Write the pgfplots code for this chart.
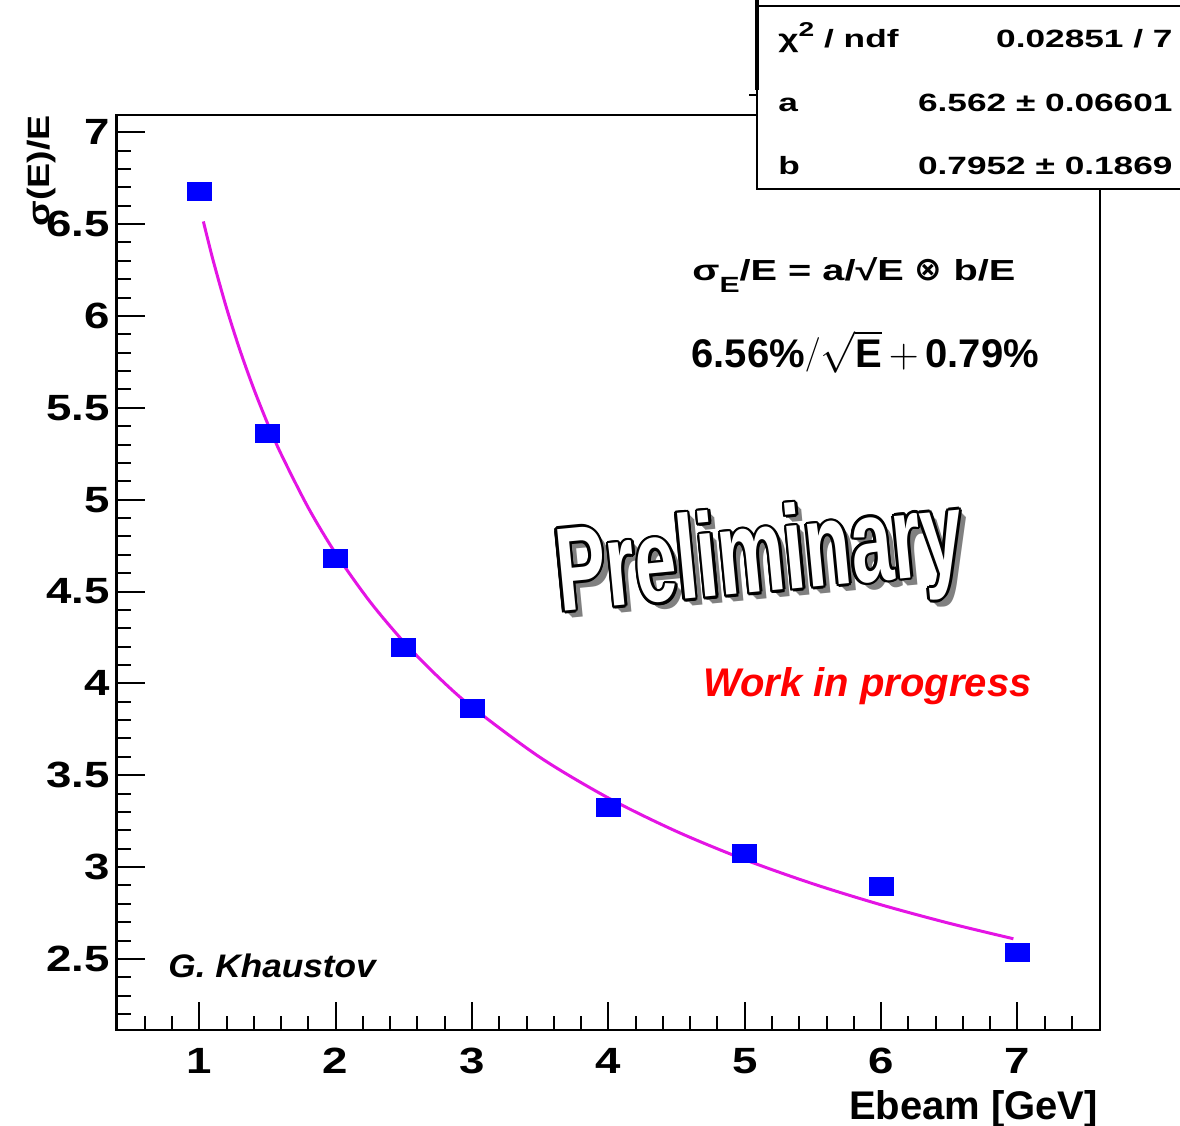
\documentclass[border=0pt]{standalone}
\usepackage{pgfplots}
\pgfplotsset{compat=1.18}
\usepackage{fontspec}
\setmainfont{Liberation Sans}
\newfontfamily\tickfont[FakeStretch=1.25]{Liberation Sans}
\newfontfamily\statfont[FakeStretch=1.41]{Liberation Sans}
\newfontfamily\formfont[FakeStretch=1.37]{Liberation Sans}
\newfontfamily\ylabfont[FakeStretch=1.22]{Liberation Sans}
\newfontfamily\authfont[FakeStretch=1.08]{Liberation Sans}
\newfontfamily\prelimfont[FakeStretch=0.63]{Liberation Sans}
\newfontfamily\symfont{DejaVu Sans}
\definecolor{fitmag}{RGB}{228,20,228}
\newcommand{\prelimtext}{\prelimfont\bfseries\fontsize{59.4}{60}\selectfont Preliminary}

\begin{document}
\begin{tikzpicture}
\path[use as bounding box] (0,0) rectangle (590pt,563pt);
\begin{axis}[
  at={(58.25pt,48pt)}, anchor=south west,
  width=491.95pt, height=457.5pt, scale only axis,
  xmin=0.393, xmax=7.608, ymin=2.113, ymax=7.094,
  axis line style={line width=1.1pt},
  tick align=inside,
  xtick pos=left, ytick pos=left,
  xtick={1,2,3,4,5,6,7},
  ytick={2.5,3,3.5,4,4.5,5,5.5,6,6.5,7},
  minor xtick={0.6,0.8,1.2,1.4,1.6,1.8,2.2,2.4,2.6,2.8,3.2,3.4,3.6,3.8,4.2,4.4,4.6,4.8,5.2,5.4,5.6,5.8,6.2,6.4,6.6,6.8,7.2,7.4},
  minor ytick={2.2,2.3,2.4,2.6,2.7,2.8,2.9,3.1,3.2,3.3,3.4,3.6,3.7,3.8,3.9,4.1,4.2,4.3,4.4,4.6,4.7,4.8,4.9,5.1,5.2,5.3,5.4,5.6,5.7,5.8,5.9,6.1,6.2,6.3,6.4,6.6,6.7,6.8,6.9,7.0},
  major tick length=14pt, minor tick length=7pt,
  every tick/.style={line width=1pt, black},
  /pgf/number format/assume math mode=true,
  tick label style={font=\tickfont\bfseries\fontsize{18.25}{20}\selectfont, inner sep=0pt},
  yticklabel style={anchor=east, xshift=-3.25pt},
  xticklabel style={anchor=north, yshift=-9pt},
  xlabel={Ebeam [GeV]},
  xlabel style={at={(axis description cs:0.998,-0.0978)}, anchor=base east, inner sep=0pt,
    font=\bfseries\fontsize{20}{24}\selectfont},
  ylabel={σ(E)/E},
  ylabel style={at={(axis description cs:-0.0676,1)}, anchor=base east, inner sep=0pt,
    font=\ylabfont\bfseries\fontsize{15.4}{18}\selectfont},
]
% measured resolution points
\addplot[only marks, mark=square*, mark size=4.5pt,
  mark options={fill=blue, draw=blue, xscale=1.33}] coordinates {
  (1,6.680) (1.5,5.361) (2,4.680) (2.5,4.195) (3,3.865)
  (4,3.324) (5,3.074) (6,2.893) (7,2.534)
};
% fitted resolution curve, sqrt(a^2/E + b^2) with a = 6.562, b = 0.7952
\addplot[fitmag, line width=1.5pt, smooth] coordinates {
  (1.03,6.5145) (1.1,6.3070) (1.2,6.0428) (1.3,5.8099) (1.4,5.6027)
  (1.5,5.4165) (1.6,5.2483) (1.8,4.9552) (2.0,4.7077) (2.25,4.4464)
  (2.5,4.2256) (2.75,4.0361) (3.0,3.8712) (3.5,3.5965) (4.0,3.3760)
  (4.5,3.1939) (5.0,3.0404) (5.5,2.9088) (6.0,2.7945) (6.5,2.6939)
  (6.97,2.6097)
};
\end{axis}

\begin{scope}[x=0.5pt, y=-0.5pt, shift={(0pt,563pt)}]
  % fit statistics box
  \draw[line width=1.2pt, fill=white] (757,6) rectangle (1200,189);
  \draw[line width=2.2pt] (757,0) -- (757,90);
  \draw[line width=1pt] (749,95) -- (757,95);
  \begin{scope}[every node/.style={inner sep=0pt, font=\statfont\bfseries\fontsize{12.5}{15}\selectfont}]
    \node[anchor=base west] at (778,48) {χ\raisebox{0.45em}{\fontsize{10}{12}\selectfont 2} / ndf};
    \node[anchor=base east] at (1173,48) {0.02851 / 7};
    \node[anchor=base west] at (778,111.5) {a};
    \node[anchor=base east] at (1173,111.5) {6.562 ± 0.06601};
    \node[anchor=base west] at (778,175) {b};
    \node[anchor=base east] at (1173,175) {0.7952 ± 0.1869};
  \end{scope}

  % resolution formulae
  \node[anchor=base west, inner sep=0pt, font=\formfont\bfseries\fontsize{14.5}{17}\selectfont]
    at (692,281) {σ\raisebox{-0.4em}{\fontsize{11}{13}\selectfont E}/E = a/√E {\symfont\fontsize{16.5}{17}\selectfont ⊗} b/E};
  \node[anchor=base west, inner sep=0pt, font=\bfseries\fontsize{20}{24}\selectfont]
    at (691,368) {6.56\%\raisebox{2pt}{\normalfont\fontsize{18}{20}\selectfont$/$}$\sqrt{\mbox{E}}\,+\,$0.79\%};

  % watermark
  \foreach \s in {1,2,...,7}
    \node[rotate=5.5, anchor=base, inner sep=0pt, text=black!50] at (763+\s,592+\s) {\prelimtext};
  \foreach \a in {0,30,...,330}
    \node[rotate=5.5, anchor=base, inner sep=0pt, text=black, xshift={1.3pt*cos(\a)}, yshift={1.3pt*sin(\a)}] at (763,592) {\prelimtext};
  \node[rotate=5.5, anchor=base, inner sep=0pt, text=white] at (763,592) {\prelimtext};

  \node[anchor=base west, inner sep=0pt, text=red, font=\bfseries\itshape\fontsize{20}{24}\selectfont]
    at (703,697) {Work in progress};
  \node[anchor=base west, inner sep=0pt, font=\authfont\bfseries\itshape\fontsize{16.3}{20}\selectfont]
    at (168,978) {G. Khaustov};
\end{scope}
\end{tikzpicture}
\end{document}
